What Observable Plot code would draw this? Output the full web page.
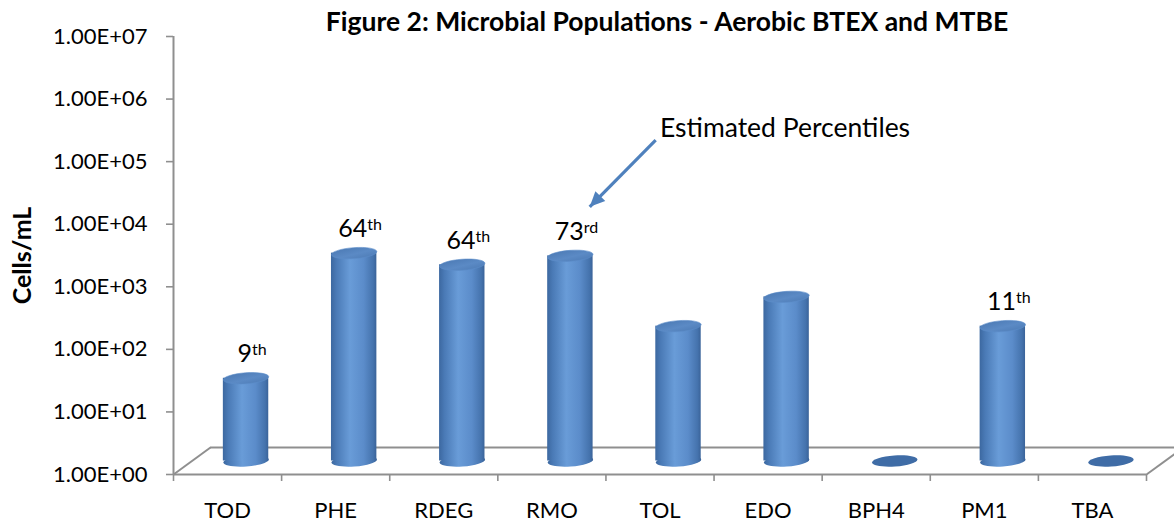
<!DOCTYPE html>
<html>
<head>
<meta charset="utf-8">
<script src="https://cdn.jsdelivr.net/npm/d3@7"></script>
<script src="https://cdn.jsdelivr.net/npm/@observablehq/plot@0.6"></script>
<style>
  body { margin: 0; background: #fff; }
  #defs { position: absolute; width: 0; height: 0; }
</style>
</head>
<body>
<svg id="defs" aria-hidden="true">
  <defs>
    <linearGradient id="cylBody" x1="0" y1="0" x2="1" y2="0">
      <stop offset="0" stop-color="#3c68a0"/>
      <stop offset="0.12" stop-color="#4a7ab6"/>
      <stop offset="0.42" stop-color="#699cd8"/>
      <stop offset="0.72" stop-color="#5b8cca"/>
      <stop offset="0.93" stop-color="#4573ad"/>
      <stop offset="1" stop-color="#3a6399"/>
    </linearGradient>
    <linearGradient id="cylTop" x1="0" y1="0" x2="1" y2="1">
      <stop offset="0" stop-color="#4876b0"/>
      <stop offset="0.55" stop-color="#5b8ac5"/>
      <stop offset="1" stop-color="#4a78b2"/>
    </linearGradient>
  </defs>
</svg>
<div id="chart"></div>
<script>
// Gene-target populations (cells/mL) per assay
const categories = ["TOD", "PHE", "RDEG", "RMO", "TOL", "EDO", "BPH4", "PM1", "TBA"];
const cellsPerML = [21, 2100, 1370, 1900, 143, 420, 0, 143, 0];
// Estimated percentile ranks shown above selected columns
const percentiles = [9, 64, 64, 73, null, null, null, 11, null];
const yTicks = [1e0, 1e1, 1e2, 1e3, 1e4, 1e5, 1e6, 1e7];

const titleText = "Figure 2: Microbial Populations - Aerobic BTEX and MTBE";
const yLabel = "Cells/mL";
// Callout: text anchor, arrow tail and arrow tip in (category index, cells/mL)
const calloutText = ["Estimated Percentiles"];
const calloutTextAt = [4.0, 3.4e5];
const calloutTail = [3.96, 2.2e5];
const calloutTip = [3.35, 1.9e4];

// Layout
const W = 1174, H = 522;
const M = { top: 36, right: 28, bottom: 48, left: 173 };
const pxPerIndex = (W - M.left - M.right) / categories.length;
const pxPerDecade = (H - M.top - M.bottom) / 7;
// Oblique depth of the 3-D floor, in pixels, and the same in data units
const depthPx = [37, -27];
const depthX = depthPx[0] / pxPerIndex;
const depthF = Math.pow(10, -depthPx[1] / pxPerDecade);
const barHalf = 0.21; // half column width, in category units
const rx = barHalf * pxPerIndex, ry = 5.5;

const FONT = "Lato, 'Open Sans', sans-serif";
const GRID = "#8f8f8f";

const data = categories.map((c, i) => ({ i, c, v: cellsPerML[i], p: percentiles[i] }));
const bars = data.filter(d => d.v > 0);
const labelled = data.filter(d => d.p != null);

function ordinal(n) {
  const s = n % 100 >= 11 && n % 100 <= 13 ? "th" : ({ 1: "st", 2: "nd", 3: "rd" })[n % 10] || "th";
  return n + s;
}
function sci(d) {
  const [m, e] = d.toExponential(2).split("e");
  return m + "E" + e[0] + e.slice(1).padStart(2, "0");
}

// Ellipse outline (optionally tilted) as a custom symbol for Plot.dot
function ellipseSymbol(a, b, tiltDeg) {
  const t = tiltDeg * Math.PI / 180, c = Math.cos(t), s = Math.sin(t), k = 0.5523;
  const P = ([x, y]) => [x * a * c - y * b * s, x * a * s + y * b * c];
  const pts = [[1,0],[1,k],[k,1],[0,1],[-k,1],[-1,k],[-1,0],[-1,-k],[-k,-1],[0,-1],[k,-1],[1,-k],[1,0]].map(P);
  return {
    draw(ctx) {
      ctx.moveTo(pts[0][0], pts[0][1]);
      for (let j = 1; j < pts.length; j += 3)
        ctx.bezierCurveTo(pts[j][0], pts[j][1], pts[j+1][0], pts[j+1][1], pts[j+2][0], pts[j+2][1]);
      ctx.closePath();
    }
  };
}
// Filled arrow head whose tip sits at the origin, pointing down-left
function arrowHeadSymbol(len, half) {
  return {
    draw(ctx) {
      const ux = Math.cos(Math.PI / 4), uy = -Math.sin(Math.PI / 4);
      const bx = ux * len, by = uy * len;
      const px = -uy * half, py = ux * half;
      ctx.moveTo(0, 0);
      ctx.lineTo(bx + px, by + py);
      ctx.lineTo(bx - px, by - py);
      ctx.closePath();
    }
  };
}

const mid = { dx: depthPx[0] / 2, dy: depthPx[1] / 2 };

const chart = Plot.plot({
  width: W,
  height: H,
  marginTop: M.top, marginRight: M.right, marginBottom: M.bottom, marginLeft: M.left,
  style: { fontFamily: FONT, color: "#000", background: "#fff", overflow: "visible" },
  x: { type: "linear", domain: [-0.5, categories.length - 0.5], axis: null, label: null },
  y: { type: "log", domain: [1, 1e7], axis: null, label: null },
  marks: [
    // Floor of the 3-D plot area
    Plot.ruleY([1], { stroke: GRID, strokeWidth: 2, dx: depthPx[0], dy: depthPx[1] }),
    Plot.link([-0.5, categories.length - 0.5], {
      x1: d => d, y1: () => 1, x2: d => d + depthX, y2: () => depthF,
      stroke: GRID, strokeWidth: 2
    }),
    Plot.ruleY([1], { stroke: GRID, strokeWidth: 2 }),
    Plot.ruleX([-0.5], { y1: 1, y2: 1e7, stroke: GRID, strokeWidth: 2 }),

    // Axes
    Plot.axisY({
      ticks: yTicks, tickFormat: sci, tickSize: 7, tickPadding: 19, label: null,
      stroke: GRID, strokeWidth: 1.6, fill: "#000", fontSize: 22, fontFamily: FONT
    }),
    Plot.axisX({
      ticks: d3.range(-0.5, categories.length, 1), tickFormat: () => "", label: null,
      tickSize: 7, stroke: GRID, strokeWidth: 1.6
    }),
    Plot.axisX({
      ticks: d3.range(categories.length), tickFormat: i => categories[i], label: null,
      tickSize: 0, tickPadding: 28, fill: "#000", fontSize: 22, fontFamily: FONT
    }),

    // Cylinders: rounded base, body, and top cap
    Plot.dot(data, {
      x: "i", y: () => 1, symbol: ellipseSymbol(rx, ry, -4),
      fill: d => d.v > 0 ? "url(#cylBody)" : "#3f6ca6", ...mid
    }),
    Plot.rectY(bars, {
      x1: d => d.i - barHalf, x2: d => d.i + barHalf, y1: 1, y2: "v",
      fill: "url(#cylBody)", ...mid
    }),
    Plot.dot(bars, {
      x: "i", y: "v", symbol: ellipseSymbol(rx, ry, -4),
      fill: "url(#cylTop)", stroke: "#5d8dc9", strokeWidth: 0.6, ...mid
    }),

    // Percentile ranks above the columns
    Plot.text(labelled, {
      x: "i", y: "v", text: d => ordinal(d.p),
      lineAnchor: "bottom", fontSize: 25, fill: "#000",
      dx: mid.dx + 6, dy: mid.dy - 16
    }),

    // Callout
    Plot.link([calloutTail], {
      x1: d => d[0], y1: d => d[1], x2: () => calloutTip[0], y2: () => calloutTip[1],
      stroke: "#4f81bd", strokeWidth: 3.2
    }),
    Plot.dot([calloutTip], {
      x: d => d[0], y: d => d[1], symbol: arrowHeadSymbol(15, 7), fill: "#4f81bd"
    }),
    Plot.text(calloutText, {
      x: () => calloutTextAt[0], y: () => calloutTextAt[1],
      textAnchor: "start", lineAnchor: "middle", fontSize: 26.5, fill: "#000"
    }),

    // Title and value-axis label
    Plot.text([titleText], {
      frameAnchor: "top", textAnchor: "middle", dx: 7, dy: -14, lineAnchor: "middle",
      fontSize: 26.5, fontWeight: "bold", fill: "#000"
    }),
    Plot.text([yLabel], {
      frameAnchor: "left", textAnchor: "middle", dx: -151, rotate: -90, lineAnchor: "middle",
      fontSize: 25, fontWeight: "bold", fill: "#000"
    })
  ]
});

// Render ordinal suffixes (st/nd/rd/th) as superscripts
d3.select(chart).selectAll("text").each(function () {
  if (this.querySelector("tspan")) return;
  const m = this.textContent.match(/^(\d+)(st|nd|rd|th)$/);
  if (!m) return;
  const sel = d3.select(this).text(m[1]);
  sel.append("tspan").attr("dy", "-0.45em").attr("font-size", 16).text(m[2]);
});

document.getElementById("chart").appendChild(chart);
</script>
</body>
</html>
